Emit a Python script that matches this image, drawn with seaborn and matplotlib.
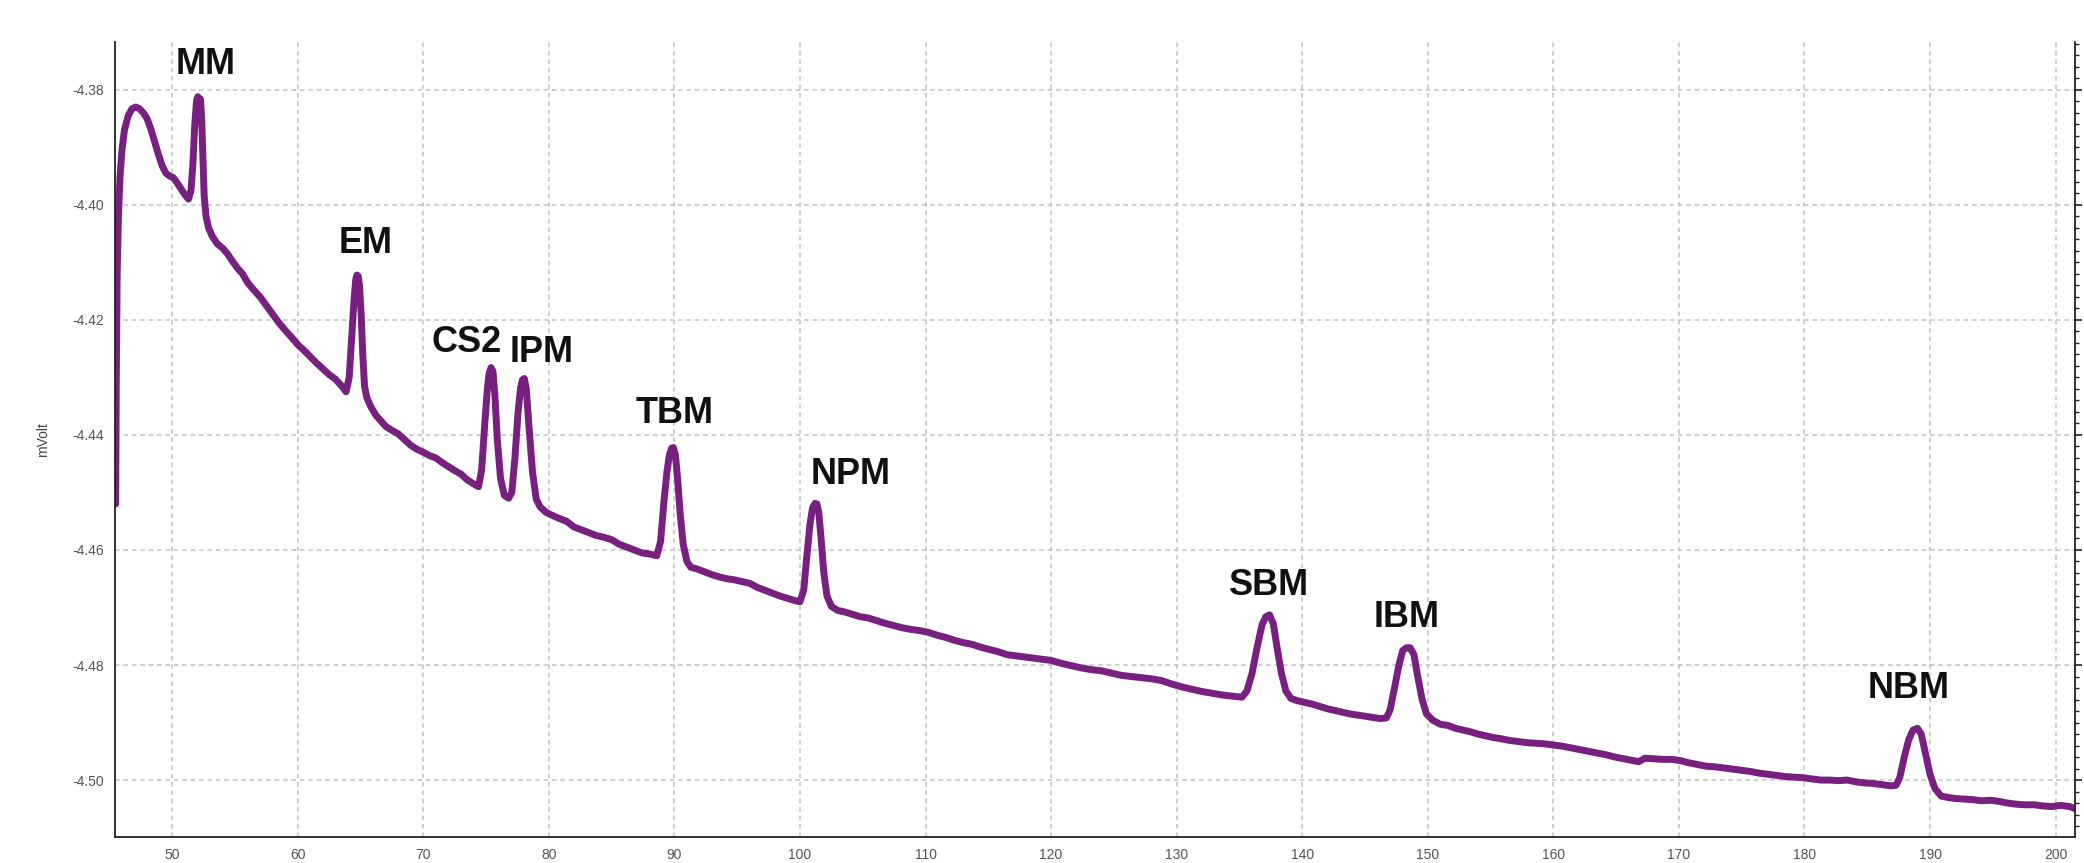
import numpy as np
import pandas as pd
import matplotlib
matplotlib.use("Agg")
import matplotlib.pyplot as plt
import seaborn as sns
from matplotlib.ticker import MultipleLocator, FormatStrFormatter

# Retention time (min) and detector signal (mVolt)
rt = [
    45.50, 45.55, 45.62, 45.72, 45.85, 46.00, 46.20, 46.50, 46.80, 47.10,
    47.40, 47.70, 48.00, 48.30, 48.60, 48.90, 49.20, 49.50, 49.80, 50.10,
    50.40, 50.70, 51.00, 51.30, 51.50, 51.65, 51.80, 51.95, 52.05, 52.15,
    52.25, 52.35, 52.45, 52.55, 52.70, 52.90, 53.20, 53.60, 54.00, 54.40,
    54.80, 55.20, 55.60, 56.00, 56.50, 57.00, 57.50, 58.00, 58.50, 59.00,
    59.50, 60.00, 60.50, 61.00, 61.50, 62.00, 62.50, 63.00, 63.50, 63.85,
    64.10, 64.30, 64.50, 64.62, 64.72, 64.82, 64.92, 65.05, 65.18, 65.32, 65.50, 65.80,
    66.20, 66.60, 67.00, 67.50, 68.00, 68.50, 69.00, 69.50, 70.00, 70.50,
    71.00, 71.50, 72.00, 72.50, 73.00, 73.50, 74.00, 74.40,
    74.65, 74.90, 75.10, 75.25, 75.40, 75.55, 75.70, 75.90, 76.15, 76.45, 76.80, 77.05,
    77.30, 77.55, 77.75, 77.90, 78.05, 78.20, 78.40, 78.70, 79.00, 79.30, 79.80,
    80.30, 80.80, 81.40, 82.00, 82.60, 83.20, 83.80, 84.40, 85.00, 85.60,
    86.20, 86.80, 87.40, 88.00, 88.60,
    88.90, 89.15, 89.40, 89.60, 89.78, 89.92, 90.08, 90.25, 90.45, 90.70, 91.00, 91.30,
    91.80, 92.40, 93.00, 93.60, 94.20, 94.80, 95.40, 96.00, 96.60, 97.20,
    97.80, 98.40, 99.00, 99.60, 100.00,
    100.30, 100.55, 100.80, 101.00, 101.20, 101.35, 101.50, 101.68, 101.90, 102.15, 102.50, 103.00,
    103.60, 104.20, 104.80, 105.40, 106.00, 106.70, 107.40, 108.10, 108.80, 109.50,
    110.20, 110.90, 111.60, 112.30, 113.00, 113.70, 114.40, 115.10, 115.80, 116.50,
    117.20, 117.90, 118.60, 119.30, 120.00, 120.80, 121.60, 122.40, 123.20, 124.00,
    124.80, 125.60, 126.40, 127.20, 128.00, 128.80, 129.60, 130.40, 131.20, 132.00,
    132.80, 133.60, 134.40, 135.20,
    135.60, 136.00, 136.40, 136.80, 137.10, 137.40, 137.70, 138.00, 138.35, 138.70,
    139.10, 139.60, 140.20, 140.80, 141.40, 142.00, 142.60, 143.20, 143.80, 144.40,
    145.00, 145.60, 146.20, 146.70,
    147.00, 147.35, 147.70, 148.00, 148.30, 148.60, 148.90, 149.20, 149.55, 149.90,
    150.40, 151.00, 151.60, 152.20, 152.80, 153.40, 154.00, 154.60, 155.20, 155.80,
    156.50, 157.20, 157.90, 158.60, 159.30, 160.00, 160.70, 161.40, 162.10, 162.80,
    163.50, 164.20, 164.90, 165.60, 166.30, 166.80, 167.30, 168.00, 168.70, 169.40,
    170.10, 170.80, 171.50, 172.20, 172.90, 173.60, 174.30, 175.00, 175.70, 176.40,
    177.10, 177.80, 178.50, 179.20, 179.90, 180.60, 181.30, 182.00, 182.70, 183.40,
    184.10, 184.80, 185.50, 186.20, 186.90, 187.30,
    187.60, 187.95, 188.30, 188.65, 189.00, 189.30, 189.65, 190.00, 190.40, 190.90,
    191.40, 192.00, 192.70, 193.40, 194.10, 194.80, 195.50, 196.20, 196.90, 197.60,
    198.30, 199.00, 199.70, 200.40, 201.10, 201.60,
]

signal = [
    -4.4520, -4.4300, -4.4120, -4.4020, -4.3950, -4.3905, -4.3870, -4.3845, -4.3833, -4.3830,
    -4.3833, -4.3840, -4.3850, -4.3868, -4.3890, -4.3912, -4.3932, -4.3945, -4.3950, -4.3953,
    -4.3962, -4.3972, -4.3982, -4.3990, -4.3975, -4.3930, -4.3860, -4.3818, -4.3812, -4.3822,
    -4.3816, -4.3850, -4.3920, -4.3985, -4.4020, -4.4040, -4.4055, -4.4068, -4.4075, -4.4085,
    -4.4098, -4.4110, -4.4120, -4.4135, -4.4148, -4.4160, -4.4175, -4.4190, -4.4205, -4.4218,
    -4.4230, -4.4243, -4.4253, -4.4264, -4.4275, -4.4285, -4.4295, -4.4303, -4.4315, -4.4325,
    -4.4300, -4.4230, -4.4160, -4.4130, -4.4122, -4.4124, -4.4140, -4.4190, -4.4260, -4.4315, -4.4335, -4.4350,
    -4.4365, -4.4375, -4.4385, -4.4392, -4.4398, -4.4408, -4.4418, -4.4425, -4.4430, -4.4436,
    -4.4440, -4.4448, -4.4455, -4.4462, -4.4468, -4.4478, -4.4485, -4.4490,
    -4.4460, -4.4380, -4.4320, -4.4292, -4.4283, -4.4290, -4.4330, -4.4410, -4.4475, -4.4505, -4.4510, -4.4500,
    -4.4440, -4.4360, -4.4318, -4.4304, -4.4302, -4.4320, -4.4380, -4.4465, -4.4512, -4.4525, -4.4535,
    -4.4540, -4.4545, -4.4550, -4.4560, -4.4565, -4.4570, -4.4575, -4.4578, -4.4582, -4.4590,
    -4.4595, -4.4600, -4.4605, -4.4607, -4.4610,
    -4.4585, -4.4520, -4.4465, -4.4435, -4.4423, -4.4422, -4.4435, -4.4475, -4.4535, -4.4590, -4.4620, -4.4630,
    -4.4633, -4.4638, -4.4643, -4.4647, -4.4650, -4.4652, -4.4655, -4.4658, -4.4665, -4.4670,
    -4.4675, -4.4680, -4.4684, -4.4688, -4.4690,
    -4.4670, -4.4610, -4.4555, -4.4527, -4.4519, -4.4520, -4.4535, -4.4580, -4.4640, -4.4680, -4.4698, -4.4705,
    -4.4708, -4.4712, -4.4716, -4.4718, -4.4722, -4.4727, -4.4731, -4.4735, -4.4738, -4.4740,
    -4.4743, -4.4748, -4.4752, -4.4757, -4.4761, -4.4764, -4.4769, -4.4773, -4.4777, -4.4782,
    -4.4784, -4.4786, -4.4788, -4.4790, -4.4792, -4.4797, -4.4801, -4.4805, -4.4808, -4.4810,
    -4.4814, -4.4818, -4.4820, -4.4822, -4.4824, -4.4827, -4.4833, -4.4838, -4.4842, -4.4846,
    -4.4849, -4.4852, -4.4854, -4.4856,
    -4.4845, -4.4815, -4.4770, -4.4730, -4.4716, -4.4713, -4.4728, -4.4770, -4.4815, -4.4845,
    -4.4858, -4.4862, -4.4865, -4.4868, -4.4872, -4.4876, -4.4879, -4.4882, -4.4885, -4.4887,
    -4.4889, -4.4891, -4.4893, -4.4892,
    -4.4878, -4.4840, -4.4800, -4.4775, -4.4770, -4.4770, -4.4782, -4.4820, -4.4860, -4.4885,
    -4.4896, -4.4903, -4.4905, -4.4910, -4.4913, -4.4916, -4.4920, -4.4923, -4.4926, -4.4928,
    -4.4931, -4.4933, -4.4935, -4.4936, -4.4937, -4.4939, -4.4941, -4.4944, -4.4947, -4.4950,
    -4.4953, -4.4956, -4.4960, -4.4963, -4.4966, -4.4968, -4.4962, -4.4963, -4.4964, -4.4964,
    -4.4966, -4.4970, -4.4973, -4.4976, -4.4977, -4.4979, -4.4981, -4.4983, -4.4985, -4.4988,
    -4.4990, -4.4992, -4.4994, -4.4995, -4.4996, -4.4998, -4.5000, -4.5000, -4.5001, -4.5000,
    -4.5003, -4.5005, -4.5006, -4.5008, -4.5010, -4.5009,
    -4.4995, -4.4960, -4.4930, -4.4913, -4.4910, -4.4920, -4.4955, -4.4990, -4.5015, -4.5028,
    -4.5030, -4.5032, -4.5033, -4.5034, -4.5036, -4.5035, -4.5037, -4.5040, -4.5042, -4.5043,
    -4.5043, -4.5045, -4.5046, -4.5044, -4.5046, -4.5050,
]

# Peak names and their apex retention times
peak_names = ["MM", "EM", "CS2", "IPM", "TBM", "NPM", "SBM", "IBM", "NBM"]
peak_rt = [52.05, 64.72, 75.40, 78.05, 89.92, 101.35, 137.40, 148.45, 189.00]

df = pd.DataFrame({"rt": rt, "signal": signal})

sns.set_style("white")
plt.rcParams["font.family"] = ["Liberation Sans", "DejaVu Sans"]

fig = plt.figure(figsize=(20.84, 8.63), dpi=100)
ax = fig.add_axes([0.0552, 0.0301, 0.9405, 0.9212])

sns.lineplot(data=df, x="rt", y="signal", ax=ax, color="#78207f", linewidth=5,
             estimator=None, sort=False, solid_joinstyle="round", solid_capstyle="round")

ax.set_xlim(45.45, 201.55)
ax.set_ylim(-4.5099, -4.3717)

ax.xaxis.set_major_locator(MultipleLocator(10))
ax.xaxis.set_minor_locator(MultipleLocator(1))
ax.yaxis.set_major_locator(MultipleLocator(0.02))
ax.yaxis.set_minor_locator(MultipleLocator(0.002))
ax.yaxis.set_major_formatter(FormatStrFormatter("%.2f"))

ax.grid(True, which="major", color="#c2c2c2", linestyle=(0, (3, 2.5)), linewidth=1.1)
ax.set_axisbelow(True)

for side in ["left", "bottom", "right"]:
    ax.spines[side].set_visible(True)
    ax.spines[side].set_color("#222222")
    ax.spines[side].set_linewidth(1.3)
ax.spines["top"].set_visible(False)

ax.tick_params(axis="both", which="major", direction="out", length=5, width=1.2,
               color="#222222", labelsize=10, labelcolor="#555555", pad=3)
ax.tick_params(axis="both", which="minor", direction="out", length=3, width=1.0,
               color="#222222")
ax.tick_params(axis="y", which="both", right=True)

ax.set_xlabel("")
ax.set_ylabel("mVolt", fontsize=10, color="#444444", labelpad=16)

# Peak labels above each apex
offsets = [(8, 32), (9, 32), (-24, 25), (17, 26), (1, 34), (34, 29), (-1, 29), (0, 30), (-9, 40)]
for name, prt, (dx, dy) in zip(peak_names, peak_rt, offsets):
    i = int(np.argmin(np.abs(np.array(rt) - prt)))
    ax.annotate(name, xy=(rt[i], signal[i]), xytext=(dx, dy), textcoords="offset pixels",
                ha="center", va="center", fontsize=26, fontweight="bold", color="#111111")

fig.savefig("out.png", dpi=100)
